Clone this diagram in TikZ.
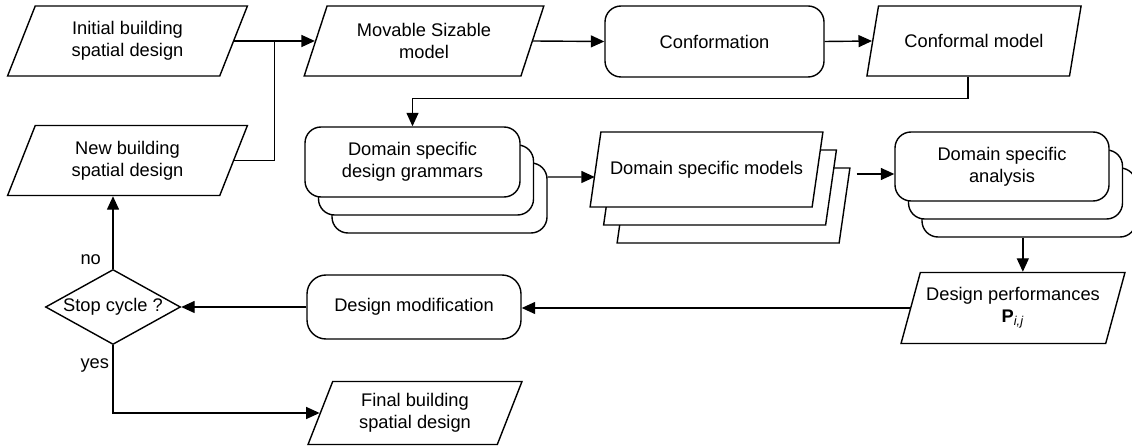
\documentclass[tikz,border=0pt]{standalone}
\usepackage{fontspec}
\setmainfont{Liberation Sans}
\usepackage{tikz}
\usetikzlibrary{shapes,arrows.meta,positioning,calc,shadows}

\begin{document}
\begin{tikzpicture}
    \tikzstyle{every node} = [font=\fontsize{10.4}{12.6}\selectfont, align=center]
    \tikzstyle{io} = [draw, fill=white, line width=0.8pt, trapezium, trapezium left angle=70, trapezium right angle=110, trapezium stretches=true, minimum height=1.4cm]
    \tikzstyle{process} = [draw, fill=white, line width=0.8pt, rectangle, rounded corners=0.32cm, minimum height=1.4cm]
    \tikzstyle{decision} = [draw, fill=white, line width=0.8pt, diamond, aspect=1.8, inner sep=0pt, minimum width=2.7cm, minimum height=1.5cm]
    \tikzstyle{stack} = [copy shadow={shadow xshift=0.54cm, shadow yshift=-0.72cm, draw=black, fill=white}, copy shadow={shadow xshift=0.27cm, shadow yshift=-0.36cm, draw=black, fill=white}]
    \tikzstyle{arrow} = [line width=0.8pt, -{Triangle[length=0.27cm, width=0.24cm]}]
    \useasboundingbox (0,0) rectangle (22.64,-8.96);

    % place nodes
    \node[io, minimum width=4.82cm] (init) at (2.55,-0.82) {Initial building\\spatial design};
    \node[io, minimum width=4.82cm] (new) at (2.55,-3.21) {New building\\spatial design};
    \node[io, minimum width=4.8cm] (mov) at (8.48,-0.82) {Movable Sizable\\model};
    \node[process, minimum width=4.38cm, minimum height=1.42cm] (conf) at (14.29,-0.83) {Conformation};
    \node[io, minimum width=4.32cm] (confm) at (19.48,-0.82) {Conformal model};

    \node[process, stack, minimum width=4.3cm] (gram) at (8.25,-3.24) {Domain specific\\design grammars};
    \node[io, stack, minimum width=4.66cm, minimum height=1.5cm] (models) at (14.13,-3.39) {Domain specific models};
    \node[process, stack, minimum width=4.28cm, minimum height=1.38cm] (ana) at (20.04,-3.33) {Domain specific\\analysis};

    \node[io, minimum width=4.48cm, minimum height=1.42cm] (perf) at (20.26,-6.16) {Design performances\\\textbf{P}\textsubscript{\textit{i,j}}};
    \node[process, minimum width=4.28cm, minimum height=1.28cm, rounded corners=0.38cm] (modif) at (8.28,-6.14) {Design modification};
    \node[decision] (stop) at (2.26,-6.14) {Stop cycle ?};
    \node[io, minimum width=4.3cm, minimum height=1.26cm] (final) at (8.3,-8.26) {Final building\\spatial design};

    % Connections
    \coordinate (join) at ($(init.right side)!0.5!(mov.left side)$);
    \coordinate (anabot) at ([yshift=-0.72cm]ana.south);
    \draw[arrow] (init.right side) -- (mov.left side);
    \draw[line width=0.8pt] (new.right side) -| (join);
    \draw[arrow] (mov.right side) -- (conf.west);
    \draw[arrow] (conf.east) -- (confm.left side);
    \draw[arrow] (confm.bottom side) -- ++(0,-0.44) -| (gram.north);
    \draw[arrow] ([xshift=0.54cm,yshift=-0.3cm]gram.east) -- ([yshift=-0.15cm]models.left side);
    \draw[arrow] ([xshift=0.77cm,yshift=-0.09cm]models.right side) -- ([yshift=-0.15cm]ana.west);
    \draw[arrow] (perf.top side |- anabot) -- (perf.top side);
    \draw[arrow] (perf.left side) -- (perf.left side -| modif.east);
    \draw[arrow] (modif.west) -- (stop.east);
    \draw[arrow] (stop.north) -- node[pos=0.13, xshift=-0.78cm, anchor=west]{no} (stop.north |- new.south);
    \draw[arrow] (stop.south) |- node[pos=0.15, xshift=-0.78cm, anchor=west]{yes} (final.left side);

\end{tikzpicture}
\end{document}
